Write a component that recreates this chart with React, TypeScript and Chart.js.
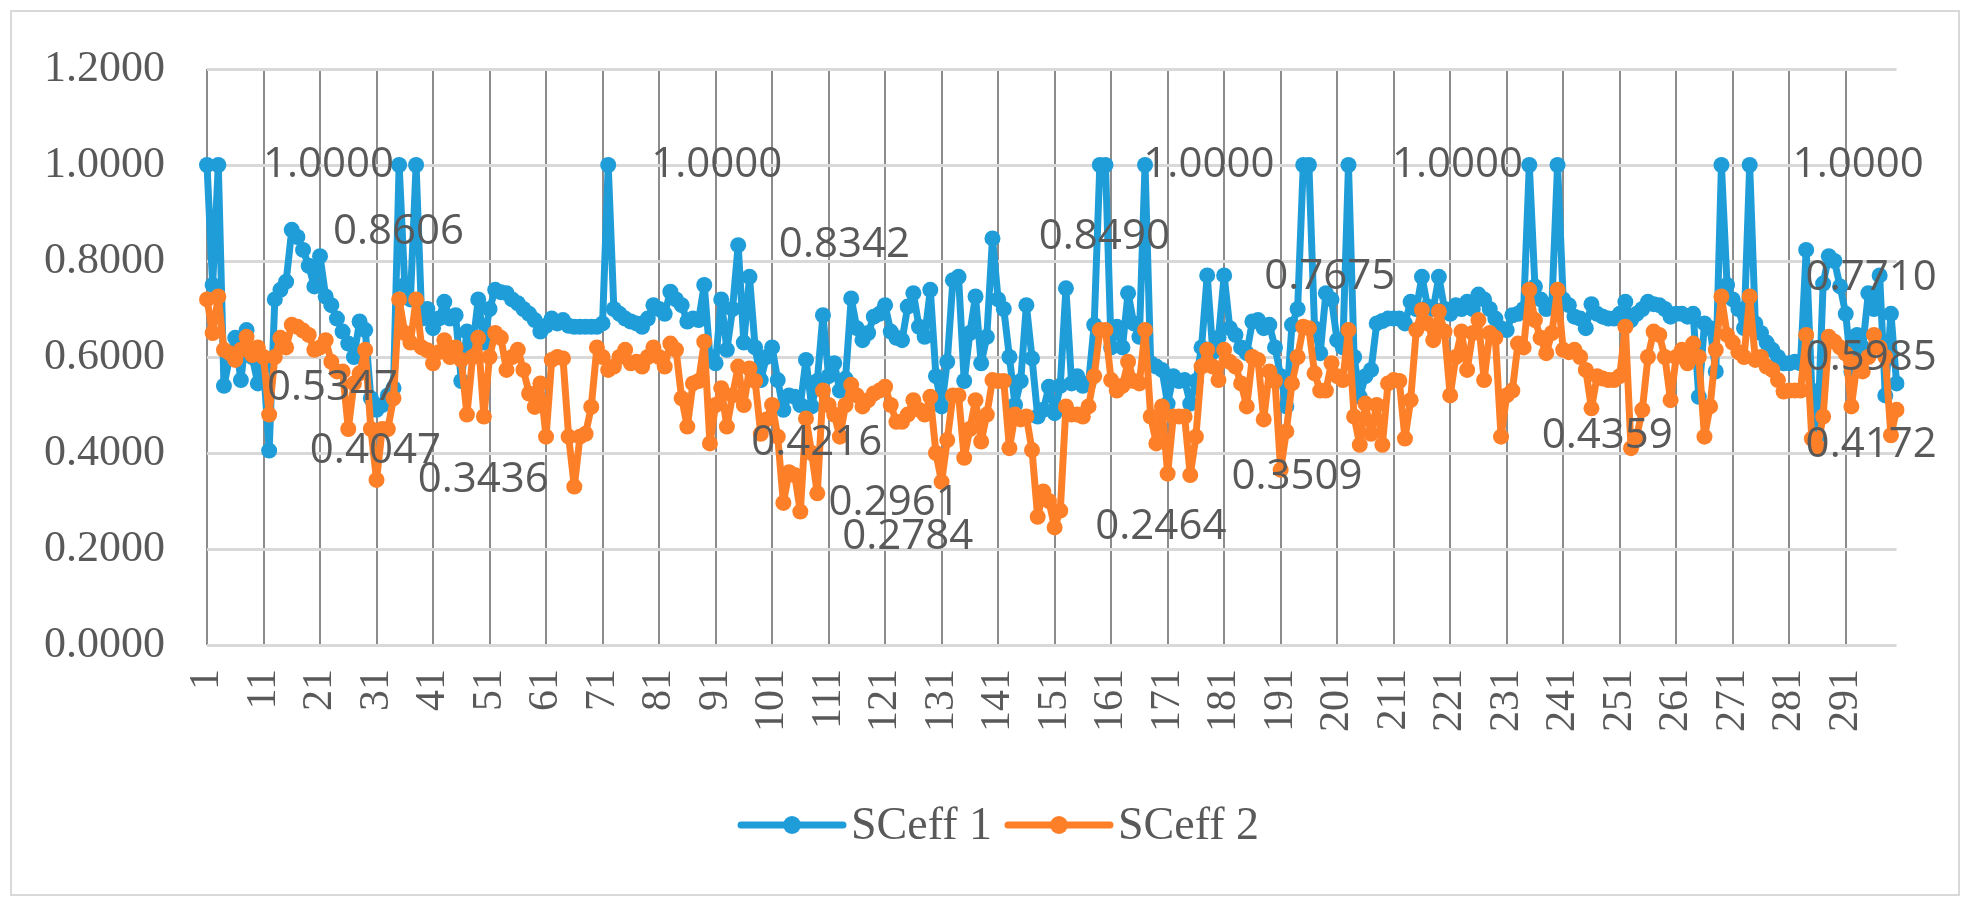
import { useEffect, useRef } from 'react';
import { Chart, registerables } from 'chart.js';

Chart.register(...registerables);

const categories = Array.from({ length: 300 }, (_, i) => String(i + 1));

const seriesNames = ['SCeff 1', 'SCeff 2'];

const sceff1 = [
  1.0, 0.75, 1.0, 0.54, 0.6, 0.64, 0.552, 0.656, 0.6, 0.545,
  0.58, 0.405, 0.72, 0.74, 0.757, 0.865, 0.85, 0.823, 0.79, 0.747,
  0.81, 0.726, 0.708, 0.68, 0.653, 0.628, 0.6, 0.674, 0.656, 0.514,
  0.49, 0.5, 0.52, 0.535, 1.0, 0.75, 0.72, 1.0, 0.68, 0.7,
  0.66, 0.68, 0.715, 0.68, 0.687, 0.55, 0.653, 0.62, 0.72, 0.63,
  0.7, 0.74, 0.735, 0.733, 0.72, 0.712, 0.7, 0.69, 0.677, 0.653,
  0.665, 0.68, 0.67, 0.677, 0.665, 0.663, 0.663, 0.663, 0.663, 0.663,
  0.67, 1.0, 0.7, 0.69, 0.68, 0.674, 0.67, 0.663, 0.68, 0.708,
  0.7, 0.69, 0.736, 0.72, 0.708, 0.674, 0.68, 0.677, 0.75, 0.6,
  0.587, 0.72, 0.615, 0.7, 0.833, 0.63, 0.767, 0.62, 0.552, 0.6,
  0.62, 0.552, 0.49, 0.52, 0.517, 0.5, 0.594, 0.497, 0.55, 0.687,
  0.56, 0.587, 0.53, 0.555, 0.722, 0.66, 0.635, 0.65, 0.684, 0.69,
  0.708, 0.653, 0.64, 0.635, 0.705, 0.733, 0.663, 0.642, 0.74, 0.56,
  0.497, 0.59, 0.76, 0.767, 0.55, 0.65, 0.726, 0.587, 0.642, 0.847,
  0.72, 0.7, 0.6, 0.5, 0.55, 0.708, 0.597, 0.476, 0.49, 0.538,
  0.483, 0.54, 0.743, 0.545, 0.56, 0.54, 0.545, 0.667, 1.0, 1.0,
  0.62, 0.663, 0.62, 0.733, 0.67, 0.642, 1.0, 0.587, 0.58, 0.573,
  0.503, 0.56, 0.55, 0.552, 0.503, 0.55, 0.62, 0.77, 0.61, 0.64,
  0.77, 0.66, 0.646, 0.62, 0.608, 0.674, 0.677, 0.66, 0.667, 0.62,
  0.56, 0.497, 0.667, 0.7, 1.0, 1.0, 0.66, 0.608, 0.733, 0.72,
  0.635, 0.62, 1.0, 0.6, 0.517, 0.56, 0.573, 0.67, 0.675, 0.68,
  0.68, 0.68, 0.67, 0.715, 0.7, 0.767, 0.705, 0.7, 0.767, 0.7,
  0.69, 0.708, 0.7, 0.715, 0.7, 0.73, 0.72, 0.7, 0.68, 0.66,
  0.656, 0.687, 0.69, 0.7, 1.0, 0.747, 0.72, 0.7, 0.71, 1.0,
  0.72, 0.708, 0.684, 0.68, 0.66, 0.71, 0.69, 0.684, 0.68, 0.68,
  0.69, 0.715, 0.677, 0.69, 0.7, 0.715, 0.71, 0.708, 0.7, 0.684,
  0.69, 0.69, 0.684, 0.69, 0.517, 0.67, 0.66, 0.57, 1.0, 0.75,
  0.72, 0.7, 0.66, 1.0, 0.67, 0.65, 0.63, 0.615, 0.6, 0.587,
  0.587, 0.59, 0.587, 0.823, 0.53, 0.434, 0.753, 0.81, 0.8, 0.747,
  0.69, 0.57, 0.646, 0.62, 0.733, 0.7, 0.77, 0.52, 0.69, 0.545,
];

const sceff2 = [
  0.72, 0.65, 0.726, 0.615, 0.608, 0.594, 0.615, 0.642, 0.604, 0.62,
  0.6, 0.48, 0.6, 0.64, 0.62, 0.667, 0.663, 0.655, 0.646, 0.615,
  0.62, 0.635, 0.59, 0.57, 0.57, 0.45, 0.545, 0.566, 0.615, 0.45,
  0.344, 0.45, 0.45, 0.514, 0.72, 0.65, 0.63, 0.72, 0.62, 0.614,
  0.587, 0.61, 0.635, 0.6, 0.62, 0.594, 0.48, 0.6, 0.64, 0.476,
  0.6, 0.65, 0.64, 0.573, 0.6, 0.615, 0.573, 0.524, 0.496, 0.545,
  0.434, 0.594, 0.6, 0.597, 0.434, 0.33, 0.434, 0.44, 0.496, 0.62,
  0.6, 0.573, 0.58, 0.6, 0.615, 0.587, 0.59, 0.58, 0.6, 0.62,
  0.6, 0.58, 0.628, 0.615, 0.514, 0.455, 0.545, 0.55, 0.632, 0.42,
  0.5, 0.535, 0.455, 0.52, 0.58, 0.5, 0.576, 0.55, 0.44, 0.47,
  0.5, 0.434, 0.296, 0.36, 0.354, 0.278, 0.472, 0.4, 0.316, 0.53,
  0.5, 0.48, 0.434, 0.5, 0.542, 0.52, 0.497, 0.51, 0.524, 0.53,
  0.538, 0.5, 0.465, 0.465, 0.48, 0.51, 0.49, 0.48, 0.517, 0.4,
  0.34, 0.427, 0.52, 0.52, 0.39, 0.45, 0.51, 0.424, 0.48, 0.552,
  0.55, 0.55, 0.41, 0.48, 0.47, 0.476, 0.406, 0.267, 0.32, 0.3,
  0.245, 0.28, 0.497, 0.48, 0.48, 0.476, 0.497, 0.56, 0.656, 0.656,
  0.552, 0.53, 0.54, 0.59, 0.55, 0.545, 0.656, 0.476, 0.42, 0.497,
  0.357, 0.476, 0.476, 0.476, 0.354, 0.434, 0.58, 0.615, 0.58, 0.552,
  0.615, 0.59, 0.58, 0.545, 0.497, 0.6, 0.594, 0.47, 0.57, 0.55,
  0.365, 0.445, 0.545, 0.6, 0.663, 0.66, 0.566, 0.53, 0.53, 0.587,
  0.56, 0.552, 0.656, 0.476, 0.417, 0.503, 0.44, 0.5, 0.417, 0.545,
  0.552, 0.55, 0.43, 0.51, 0.656, 0.698, 0.67, 0.635, 0.695, 0.653,
  0.52, 0.6, 0.653, 0.573, 0.65, 0.677, 0.552, 0.65, 0.64, 0.434,
  0.52, 0.53, 0.628, 0.62, 0.74, 0.677, 0.64, 0.608, 0.65, 0.74,
  0.615, 0.61, 0.615, 0.6, 0.573, 0.493, 0.56, 0.555, 0.552, 0.552,
  0.56, 0.663, 0.41, 0.434, 0.49, 0.6, 0.653, 0.646, 0.6, 0.51,
  0.6, 0.615, 0.587, 0.628, 0.6, 0.434, 0.497, 0.615, 0.726, 0.646,
  0.63, 0.61, 0.6, 0.726, 0.594, 0.6, 0.58, 0.573, 0.552, 0.528,
  0.53, 0.53, 0.53, 0.646, 0.43, 0.413, 0.476, 0.642, 0.632, 0.62,
  0.607, 0.497, 0.587, 0.57, 0.6, 0.646, 0.62, 0.6, 0.437, 0.49,
];

// value labels as shown on the chart: text, category (1-based) where text starts, value height
const labelTexts = [
  '1.0000', '0.8606', '0.5347', '0.4047', '0.3436', '1.0000', '0.8342',
  '0.4216', '0.2961', '0.2784', '0.8490', '1.0000', '0.2464', '0.3509',
  '0.7675', '1.0000', '0.4359', '1.0000', '0.7710', '0.5985', '0.4172',
];
const labelAt = [
  10.9, 23.3, 11.6, 19.2, 38.3, 79.6, 102.2,
  97.3, 111, 113.4, 148.2, 166.7, 158.2, 182.3,
  188.1, 210.7, 237.2, 281.6, 283.9, 283.9, 283.9,
];
const labelY = [
  1.0, 0.8606, 0.5347, 0.4047, 0.3436, 1.0, 0.8342,
  0.4216, 0.2961, 0.225, 0.849, 1.0, 0.2464, 0.3509,
  0.7675, 1.0, 0.4359, 1.0, 0.765, 0.5985, 0.4172,
];

const BLUE = '#1f9dd9';
const ORANGE = '#fd7f28';
const TEXT = '#595959';
const SERIF = '"Liberation Serif", "Times New Roman", serif';

const valueLabels = {
  id: 'valueLabels',
  afterDatasetsDraw(chart: any) {
    const { ctx, scales } = chart;
    ctx.save();
    ctx.font = '42px "Open Sans", sans-serif';
    ctx.fillStyle = TEXT;
    ctx.textAlign = 'left';
    ctx.textBaseline = 'middle';
    labelTexts.forEach((t, i) => {
      const x = scales.x.getPixelForValue(labelAt[i] - 1);
      const y = scales.y.getPixelForValue(labelY[i]);
      ctx.fillText(t, x, y);
    });
    ctx.restore();
  },
};

const lineLegend = {
  id: 'lineLegend',
  afterDraw(chart: any) {
    const { ctx } = chart;
    const colors = [BLUE, ORANGE];
    ctx.save();
    ctx.font = `46px ${SERIF}`;
    ctx.textBaseline = 'middle';
    const lineLen = 102;
    const gap = 8;
    const spacing = 16;
    const widths = seriesNames.map((n) => ctx.measureText(n).width);
    const total = widths.reduce((a, w) => a + lineLen + gap + w, 0) + spacing;
    let x = 1000 - total / 2;
    const y = 825;
    seriesNames.forEach((name, i) => {
      ctx.strokeStyle = colors[i];
      ctx.lineWidth = 7;
      ctx.lineCap = 'round';
      ctx.beginPath();
      ctx.moveTo(x, y);
      ctx.lineTo(x + lineLen, y);
      ctx.stroke();
      ctx.fillStyle = colors[i];
      ctx.beginPath();
      ctx.arc(x + lineLen / 2, y, 9, 0, Math.PI * 2);
      ctx.fill();
      ctx.fillStyle = TEXT;
      ctx.fillText(name, x + lineLen + gap, y + 2);
      x += lineLen + gap + widths[i] + spacing;
    });
    ctx.restore();
  },
};

const App = () => {
  const canvasRef = useRef<HTMLCanvasElement>(null);

  useEffect(() => {
    if (!canvasRef.current) return;
    const line = (label: string, data: number[], color: string, order: number) => ({
      label,
      data,
      borderColor: color,
      backgroundColor: color,
      pointBackgroundColor: color,
      pointBorderColor: color,
      borderWidth: 7,
      pointRadius: 8,
      pointBorderWidth: 0,
      tension: 0,
      borderJoinStyle: 'round' as const,
      order,
    });
    const chart = new Chart(canvasRef.current, {
      type: 'line',
      data: {
        labels: categories,
        datasets: [
          line(seriesNames[0], sceff1, BLUE, 1),
          line(seriesNames[1], sceff2, ORANGE, 0),
        ],
      },
      options: {
        animation: false,
        responsive: false,
        devicePixelRatio: 1,
        layout: { padding: { left: 0, right: 72, top: 69, bottom: 0 } },
        plugins: {
          legend: { display: false },
          tooltip: { enabled: false },
        },
        scales: {
          x: {
            offset: false,
            border: { display: false },
            grid: {
              drawTicks: false,
              lineWidth: 2,
              color: (c: any) => (c.index % 10 === 0 ? '#8c8c8c' : 'rgba(0,0,0,0)'),
            },
            ticks: {
              autoSkip: false,
              minRotation: 90,
              maxRotation: 90,
              padding: 24,
              color: TEXT,
              font: { family: SERIF, size: 42 },
              callback: (_v: any, i: number) => (i % 10 === 0 ? categories[i] : ''),
            },
            afterFit: (s: any) => {
              s.height = 264;
            },
          },
          y: {
            min: 0,
            max: 1.2,
            border: { display: false },
            grid: { drawTicks: false, lineWidth: 3, color: '#d9d9d9' },
            ticks: {
              stepSize: 0.2,
              padding: 42,
              color: TEXT,
              font: { family: SERIF, size: 44 },
              callback: (v: any) => Number(v).toFixed(4),
            },
            afterFit: (s: any) => {
              s.width = 207;
            },
          },
        },
      },
      plugins: [valueLabels, lineLegend],
    });
    return () => chart.destroy();
  }, []);

  return (
    <div style={{ position: 'absolute', left: 0, top: 0, width: 1971, height: 909, background: '#fff' }}>
      <canvas ref={canvasRef} width={1971} height={909} style={{ display: 'block' }} />
      <div
        style={{
          position: 'absolute',
          left: 10,
          top: 10,
          width: 1950,
          height: 886,
          border: '2px solid #d9d9d9',
          boxSizing: 'border-box',
          pointerEvents: 'none',
        }}
      />
    </div>
  );
};

export default App;
